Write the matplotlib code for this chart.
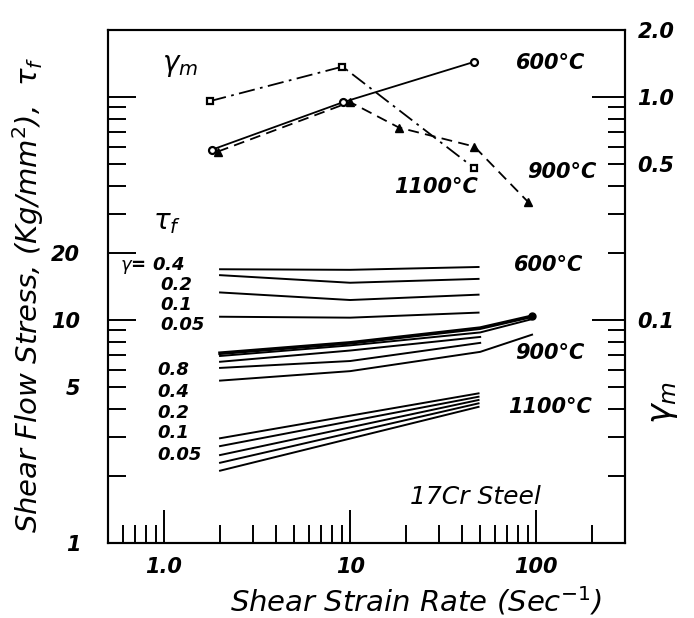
import matplotlib

matplotlib.use("Agg")

import matplotlib.pyplot as plt
from matplotlib.ticker import FixedLocator, FuncFormatter, NullFormatter

# strain rate positions (1/s)
RATE_600 = [2.0, 10.0, 49.0]
TAU_600_04 = [16.9, 16.8, 17.3]
TAU_600_02 = [15.9, 14.7, 15.3]
TAU_600_01 = [13.3, 12.3, 13.0]
TAU_600_005 = [10.35, 10.25, 10.8]

RATE_900_LONG = [2.0, 10.0, 50.0, 95.0]
RATE_900_SHORT = [2.0, 10.0, 50.0]
TAU_900_08 = [7.1, 7.9, 9.2, 10.4]
TAU_900_04 = [6.9, 7.7, 8.8, 10.1]
TAU_900_02 = [6.5, 7.3, 8.4]
TAU_900_01 = [6.1, 6.55, 7.9]
TAU_900_005 = [5.35, 5.9, 7.2, 8.6]

RATE_1100 = [2.0, 49.0]
TAU_1100_08 = [2.95, 4.69]
TAU_1100_04 = [2.72, 4.53]
TAU_1100_02 = [2.48, 4.38]
TAU_1100_01 = [2.29, 4.23]
TAU_1100_005 = [2.11, 4.08]

# strain rate sensitivity gamma_m
GM_600_X = [1.8, 9.2, 46.5]
GM_600 = [0.58, 0.95, 1.44]
GM_900_X = [1.95, 10.0, 18.3, 46.5, 90.0]
GM_900 = [0.57, 0.95, 0.73, 0.60, 0.34]
GM_1100_X = [1.77, 9.1, 46.5]
GM_1100 = [0.96, 1.37, 0.48]

STRAIN_LABELS_HI = ["0.2", "0.1", "0.05"]
STRAIN_LABELS_LO = ["0.8", "0.4", "0.2", "0.1", "0.05"]

FONT = {"family": "DejaVu Sans", "style": "italic"}
NUM = {"family": "DejaVu Sans", "style": "italic", "weight": "bold"}


def main() -> None:
    fig = plt.figure(figsize=(6.94, 6.18), dpi=100)
    ax = fig.add_axes([108 / 694, 75 / 618, 517 / 694, 513 / 618])
    ax.set_xscale("log")
    ax.set_yscale("log")
    ax.set_xlim(0.5, 300)
    ax.set_ylim(1, 200)

    lw = 1.4
    for ys in (TAU_600_04, TAU_600_02, TAU_600_01, TAU_600_005):
        ax.plot(RATE_600, ys, color="black", lw=lw)
    ax.plot(RATE_900_LONG, TAU_900_08, color="black", lw=2.6)
    ax.plot(RATE_900_LONG, TAU_900_04, color="black", lw=lw)
    ax.plot(RATE_900_SHORT, TAU_900_02, color="black", lw=lw)
    ax.plot(RATE_900_SHORT, TAU_900_01, color="black", lw=lw)
    ax.plot(RATE_900_LONG, TAU_900_005, color="black", lw=lw)
    ax.plot([RATE_900_LONG[-1]], [TAU_900_08[-1]], "o", color="black", ms=5)
    for ys in (TAU_1100_08, TAU_1100_04, TAU_1100_02, TAU_1100_01, TAU_1100_005):
        ax.plot(RATE_1100, ys, color="black", lw=lw)

    # twin axis for gamma_m
    ax2 = ax.twinx()
    ax2.set_yscale("log")
    ax2.set_ylim(0.01, 2.0)
    ax2.plot(GM_600_X, GM_600, color="black", lw=1.3, marker="o", ms=5,
             mfc="white", mec="black", mew=1.6)
    ax2.plot(GM_900_X, GM_900, color="black", lw=1.3, ls=(0, (6, 3.5)),
             marker="^", ms=6, mfc="black", mec="black")
    ax2.plot(GM_1100_X, GM_1100, color="black", lw=1.3, ls=(0, (9, 3, 1.5, 3)),
             marker="s", ms=5, mfc="white", mec="black", mew=1.6)

    # ticks
    ax.xaxis.set_major_locator(FixedLocator([1, 10, 100]))
    ax.xaxis.set_minor_locator(FixedLocator(
        [0.6, 0.7, 0.8, 0.9] + list(range(2, 10)) + list(range(20, 100, 10)) + [200]))
    ax.xaxis.set_major_formatter(FuncFormatter(lambda v, p: {1: "1.0", 10: "10", 100: "100"}.get(int(round(v)), "")))
    ax.xaxis.set_minor_formatter(NullFormatter())

    ax.yaxis.set_major_locator(FixedLocator([10, 20, 100]))
    ax.yaxis.set_minor_locator(FixedLocator([1] + list(range(2, 10)) + list(range(30, 100, 10))))
    ax.yaxis.set_major_formatter(FuncFormatter(lambda v, p: {10: "10", 20: "20"}.get(int(round(v)), "")))
    ax.yaxis.set_minor_formatter(FuncFormatter(lambda v, p: {1: "1", 5: "5"}.get(int(round(v)), "")))

    ax2.yaxis.set_major_locator(FixedLocator([0.1, 1.0]))
    ax2.yaxis.set_minor_locator(FixedLocator(
        [0.02, 0.03, 0.04, 0.05, 0.06, 0.07, 0.08, 0.09,
         0.2, 0.3, 0.4, 0.5, 0.6, 0.7, 0.8, 0.9, 2.0]))
    ax2.yaxis.set_major_formatter(FuncFormatter(lambda v, p: "{:.1f}".format(v)))
    ax2.yaxis.set_minor_formatter(FuncFormatter(
        lambda v, p: "{:.1f}".format(v) if abs(v - 0.5) < 1e-6 or abs(v - 2.0) < 1e-6 else ""))

    ax.tick_params(axis="both", which="both", direction="in", top=False, right=False,
                   width=1.4, labelsize=15)
    ax.tick_params(axis="x", which="major", length=24, pad=10)
    ax.tick_params(axis="x", which="minor", length=13)
    ax.tick_params(axis="y", which="major", length=20, pad=20)
    ax.tick_params(axis="y", which="minor", length=13, pad=20)
    ax2.tick_params(axis="y", which="both", direction="in", width=1.4, labelsize=15, pad=9)
    ax2.tick_params(axis="y", which="major", length=24)
    ax2.tick_params(axis="y", which="minor", length=12)
    for a in (ax, ax2):
        for lab in a.get_xticklabels(which="both") + a.get_yticklabels(which="both"):
            lab.set_fontstyle("italic")
            lab.set_fontweight("bold")
        for sp in a.spines.values():
            sp.set_linewidth(1.5)

    # in-plot annotations
    ax.text(1.22, 139, r"$\gamma_m$", fontsize=20, ha="center", va="center")
    ax.text(1.04, 27.5, r"$\tau_f$", fontsize=20, ha="center", va="center")
    ax.text(0.58, 17.6, r"$\gamma$= 0.4", fontsize=13, ha="left", va="center", **NUM)
    for lab, y in zip(STRAIN_LABELS_HI, [14.3, 11.7, 9.5]):
        ax.text(0.96, y, lab, fontsize=13, ha="left", va="center", **NUM)
    for lab, y in zip(STRAIN_LABELS_LO, [5.97, 4.75, 3.83, 3.11, 2.48]):
        ax.text(0.92, y, lab, fontsize=13, ha="left", va="center", **NUM)

    ax.text(120, 142, "600°C", fontsize=15, ha="center", va="center", **NUM)
    ax.text(29, 39.5, "1100°C", fontsize=15, ha="center", va="center", **NUM)
    ax.text(138, 46.1, "900°C", fontsize=15, ha="center", va="center", **NUM)
    ax.text(116, 17.6, "600°C", fontsize=15, ha="center", va="center", **NUM)
    ax.text(118, 7.1, "900°C", fontsize=15, ha="center", va="center", **NUM)
    ax.text(118, 4.07, "1100°C", fontsize=15, ha="center", va="center", **NUM)
    ax.text(47, 1.61, "17Cr Steel", fontsize=18, ha="center", va="center", **FONT)

    # axis titles
    fig.text(416 / 694, 1 - 601 / 618, r"Shear Strain Rate (Sec$^{-1}$)",
             fontsize=21, ha="center", va="center", **FONT)
    fig.text(28 / 694, 1 - 295 / 618, r"Shear Flow Stress, (Kg/mm$^2$),  $\tau_f$",
             fontsize=21, ha="center", va="center", rotation=90, **FONT)
    fig.text(663 / 694, 1 - 403 / 618, r"$\gamma_m$", fontsize=24,
             ha="center", va="center", rotation=90)

    fig.savefig("out.png", dpi=100)
    plt.close(fig)


if __name__ == "__main__":
    main()
